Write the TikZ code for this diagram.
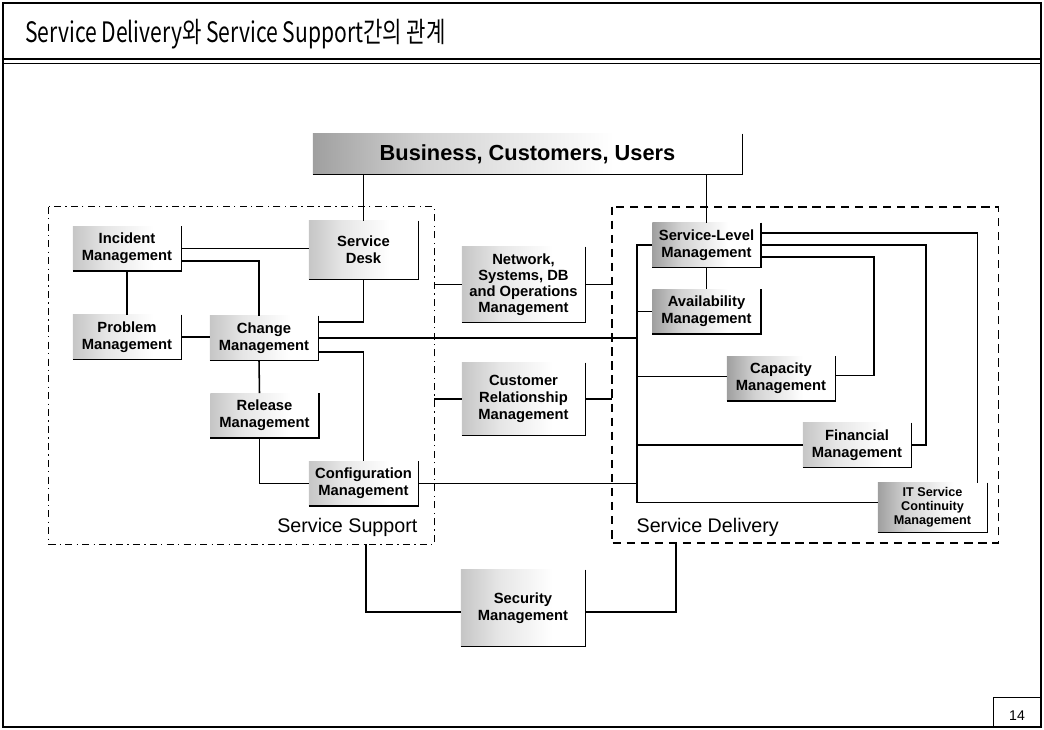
\documentclass[tikz,border=0pt]{standalone}
\usepackage{fontspec}
\usepackage{graphicx}
\setmainfont{Liberation Sans}
\newfontfamily\krfont{Noto Sans CJK KR}
\usetikzlibrary{calc}

% grainy gray fill, dark on the left and fading out to the right
\pgfdeclarehorizontalshading{grainlight}{100bp}{color(0bp)=(gray!45); color(25bp)=(gray!45);
  color(40bp)=(gray!20); color(62bp)=(white); color(100bp)=(white)}
\pgfdeclarehorizontalshading{graindark}{100bp}{color(0bp)=(gray!75); color(25bp)=(gray!75);
  color(38bp)=(gray!35); color(60bp)=(white); color(100bp)=(white)}

\tikzset{%
  mgmt/.style = {
    shape=rectangle, inner sep=0pt, align=center,
    minimum width=2.7cm, minimum height=1.1cm,
    font=\fontsize{10.5}{12}\selectfont\bfseries,
    shade, shading=grainlight
  },
  dark/.style = {shading=graindark},
  link/.style = {draw, line width=1.1pt},
  edge/.style = {draw, line width=1.1pt},
  frame/.style = {shape=rectangle, inner sep=0pt}
}

\begin{document}
\begin{tikzpicture}[x=0.025cm,y=-0.025cm]
  \useasboundingbox (0,0) rectangle (1044,729);
  % page frame and title
  \draw[line width=1pt] (3,3) rectangle (1041,727);
  \draw[line width=1.3pt] (3,59) -- (1041,59);
  \draw[line width=0.6pt] (3,63) -- (1041,63);
  \node[anchor=base west, inner sep=0pt, font=\krfont\fontsize{20}{24}\selectfont] (title) at (25,43)
    {\scalebox{0.75}[1]{Service Delivery와 Service Support간의 관계}};
  \draw[line width=0.5pt] (993,727) -- (993,697) -- (1041,697);
  \node[font=\fontsize{10}{12}\selectfont] (page) at (1017,716) {14};

  % the two groups
  \node[frame, minimum width=9.625cm, minimum height=8.425cm] (supp) at (241.5,375.5) {};
  \node[frame, minimum width=9.65cm, minimum height=8.4cm] (deli) at (805,375) {};
  \draw[line width=0.6pt, dash pattern=on 5pt off 3pt on 1pt off 3pt]
    (supp.north west) rectangle (supp.south east);
  \draw[line width=1.2pt, dash pattern=on 6pt off 4pt]
    (deli.north west) rectangle (deli.south east);
  \node[anchor=base east, font=\fontsize{14}{16}\selectfont] (supplabel)
    at ($(supp.south east)+(-12,-12)$) {Service Support};
  \node[anchor=base west, font=\fontsize{14}{16}\selectfont] (delilabel)
    at ($(deli.south west)+(20,-11)$) {Service Delivery};

  % boxes
  \node[mgmt, dark, minimum width=10.725cm, minimum height=1.0cm,
    font=\fontsize{15.5}{18}\selectfont\bfseries] (biz) at (527.5,154) {Business, Customers, Users};
  \node[mgmt] (inc) at (127,248.5) {Incident\\Management};
  \node[mgmt] (prob) at (127,337) {Problem\\Management};
  \node[mgmt] (chg) at (264,338) {Change\\Management};
  \node[mgmt, minimum width=2.725cm, minimum height=1.45cm] (desk) at (363.5,250) {Service\\Desk};
  \node[mgmt] (rel) at (264.5,415.5) {Release\\Management};
  \node[mgmt, minimum width=2.725cm] (cfg) at (363.5,483.5) {Configuration\\Management};
  \node[mgmt, minimum width=3.075cm, minimum height=1.875cm, font=\fontsize{10.5}{11.5}\selectfont\bfseries]
    (net) at (523.5,284.5) {Network,\\Systems, DB\\and Operations\\Management};
  \node[mgmt, minimum width=3.075cm, minimum height=1.8cm] (crm) at (523.5,399)
    {Customer\\Relationship\\Management};
  \node[mgmt, minimum width=3.1cm, minimum height=1.9cm] (sec) at (523,608) {Security\\Management};
  \node[mgmt, dark] (slm) at (706.5,245) {Service-Level\\Management};
  \node[mgmt, dark] (avail) at (706.5,311.5) {Availability\\Management};
  \node[mgmt, dark] (cap) at (781,378.5) {Capacity\\Management};
  \node[mgmt] (fin) at (857,445) {Financial\\Management};
  \node[mgmt, dark, minimum width=2.725cm, minimum height=1.225cm,
    font=\fontsize{9}{10}\selectfont\bfseries] (itscm) at (932.5,507.5) {IT Service\\Continuity\\Management};

  % right and bottom edges of every box
  \foreach \n in {biz,inc,prob,chg,desk,rel,cfg,net,crm,sec,slm,avail,cap,fin,itscm}
    \draw[edge] (\n.north east) -- (\n.south east) -- (\n.south west);

  % service support links
  \draw[link] (desk.north |- biz.south) -- (desk.north);
  \draw[link] (inc.east) -- (inc.east -| desk.west);
  \draw[link] ($(inc.east)+(0,12.5)$) -| ($(chg.north)+(-5,0)$);
  \draw[link] (inc.south) -- (prob.north);
  \draw[link] (prob.east) -- (prob.east -| chg.west);
  \draw[link] (desk.south) |- ($(chg.east)+(0,-16)$);
  \draw[link] ($(chg.east)+(0,14)$) -| (cfg.north);
  \draw[link] ($(chg.south)+(-5,0)$) -- ($(rel.north)+(-5,0)$);
  \draw[link] ($(rel.south)+(-5,0)$) |- (cfg.west);

  % service delivery links
  \coordinate (bus) at (637,0);
  \draw[link] (slm.north |- biz.south) -- (slm.north);
  \draw[link] (slm.south) -- (avail.north);
  \draw[link] (slm.west) -| ($(bus |- itscm.west)+(0,-5)$) -- ($(itscm.west)+(0,-5)$);
  \draw[link] (bus |- avail.west) -- (avail.west);
  \draw[link] ($(bus |- cap.west)+(0,-2)$) -- ($(cap.west)+(0,-2)$);
  \draw[link] (bus |- fin.west) -- (fin.west);
  \draw[link] ($(slm.east)+(0,12)$) -- ++(113,0) |- ($(cap.east)+(0,-3)$);
  \draw[link] (slm.east) -- ++(165,0) |- (fin.east);
  \draw[link] ($(slm.east)+(0,-12)$) -| ($(itscm.north east)+(-10,0)$);

  % links across the groups
  \draw[link] (chg.east) -- (chg.east -| bus);
  \draw[link] (cfg.east) -- (cfg.east -| bus);
  \draw[link] (net.west) -- (net.west -| supp.east);
  \draw[link] (net.east) -- (net.east -| deli.west);
  \draw[link] (crm.west) -- (crm.west -| supp.east);
  \draw[link] (crm.east) -- (crm.east -| deli.west);
  \draw[link] ($(sec.west)+(0,4)$) -| ($(supp.south)+(124.5,0)$);
  \draw[link] ($(sec.east)+(0,4)$) -| ($(deli.south)+(-129,0)$);
\end{tikzpicture}
\end{document}
